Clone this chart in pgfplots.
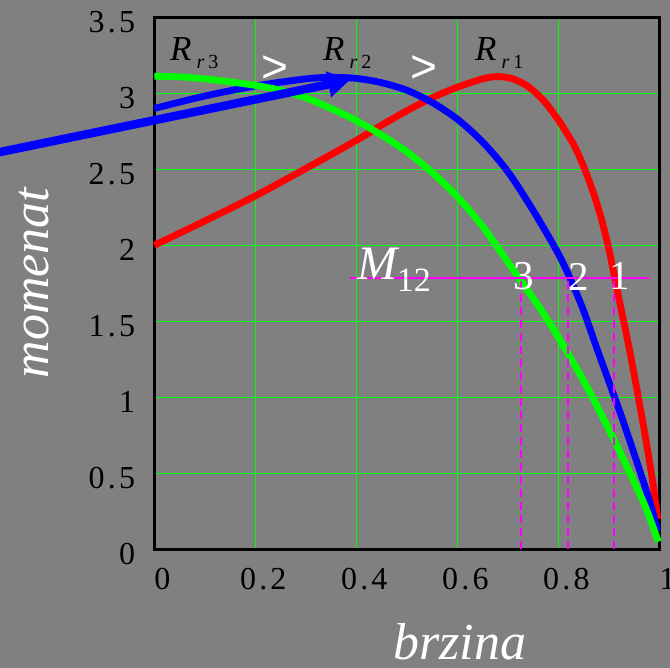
\documentclass[border=0pt]{standalone}
\usepackage{fontspec}
\setmainfont{Liberation Serif}
\newfontfamily\tickfont[LetterSpace=10]{Liberation Serif}
\newfontfamily\sansfont{Liberation Sans}
\usepackage{pgfplots}
\pgfplotsset{compat=1.18}
\usetikzlibrary{arrows.meta}
\definecolor{bg}{RGB}{128,128,128}
\definecolor{grd}{RGB}{0,255,0}
\definecolor{mag}{RGB}{255,0,255}
\definecolor{cred}{RGB}{255,0,0}
\definecolor{cblue}{RGB}{0,0,255}
\definecolor{cgreen}{RGB}{0,255,0}
\begin{document}
\begin{tikzpicture}
\fill[bg] (0pt,0pt) rectangle (670pt,668pt);
\useasboundingbox (0pt,0pt) rectangle (670pt,668pt);
\clip (0pt,0pt) rectangle (670pt,668pt);
\begin{axis}[
  at={(154.3pt,118.7pt)}, anchor=south west,
  width=505pt, height=532pt, scale only axis,
  xmin=0, xmax=1, ymin=0, ymax=3.5,
  clip=false,
  axis line style={line width=3pt, black},
  xtick={0,0.2,0.4,0.6,0.8,1},
  ytick={0,0.5,1,1.5,2,2.5,3,3.5},
  major tick length=0pt,
  grid=major,
  major grid style={grd, line width=1.3pt},
  /pgf/number format/assume math mode=true,
  xticklabel style={font=\fontsize{32}{32}\selectfont\tickfont, anchor=north, inner sep=0pt, yshift=-19pt, xshift=8pt},
  yticklabel style={font=\fontsize{32}{32}\selectfont\tickfont, anchor=east, inner sep=0pt, xshift=-19pt, yshift=-4.5pt},
]
\addplot[cred, line width=6.8pt, smooth, tension=0.5, line join=round] coordinates {
(0.000,2.000) (0.100,2.160) (0.200,2.325) (0.300,2.505) (0.400,2.690)
(0.450,2.790) (0.500,2.885) (0.550,2.970) (0.600,3.040) (0.650,3.095)
(0.680,3.110) (0.710,3.095) (0.740,3.045) (0.770,2.955) (0.800,2.825)
(0.830,2.665) (0.850,2.520) (0.870,2.340) (0.886,2.166) (0.899,1.991)
(0.910,1.816) (0.922,1.618) (0.940,1.330) (0.958,1.010) (0.975,0.690)
(0.988,0.420) (0.997,0.200)
};
\addplot[cblue, line width=6.8pt, smooth, tension=0.5, line join=round] coordinates {
(0.000,2.900) (0.100,2.982) (0.200,3.048) (0.300,3.095) (0.350,3.105)
(0.400,3.098) (0.450,3.070) (0.500,3.020) (0.550,2.940) (0.600,2.830)
(0.650,2.680) (0.700,2.485) (0.750,2.230) (0.800,1.945) (0.825,1.770)
(0.850,1.570) (0.875,1.335) (0.900,1.105) (0.925,0.875) (0.950,0.630)
(0.970,0.430) (0.985,0.270) (0.997,0.120)
};
\addplot[cgreen, line width=6.8pt, smooth, tension=0.5, line join=round] coordinates {
(0.000,3.112) (0.050,3.108) (0.100,3.095) (0.150,3.075) (0.200,3.052)
(0.250,3.020) (0.300,2.970) (0.350,2.900) (0.400,2.820) (0.450,2.725)
(0.500,2.615) (0.550,2.480) (0.600,2.320) (0.650,2.125) (0.700,1.890)
(0.725,1.770) (0.760,1.605) (0.800,1.395) (0.850,1.110) (0.900,0.790)
(0.950,0.445) (0.975,0.260) (0.998,0.050)
};
\draw[mag, line width=2pt] (axis cs:0.388,1.786) -- (axis cs:0.98,1.786);
\draw[mag, line width=2pt, dash pattern=on 8pt off 5pt] (axis cs:0.7255,0) -- (axis cs:0.7255,1.786);
\draw[mag, line width=2pt, dash pattern=on 8pt off 5pt] (axis cs:0.8186,0) -- (axis cs:0.8186,1.786);
\draw[mag, line width=2pt, dash pattern=on 8pt off 5pt] (axis cs:0.910,0) -- (axis cs:0.910,1.786);
\draw[cblue, line width=8.5pt, -{Triangle[length=22pt,width=25pt]}] (axis cs:-0.35,2.583) -- (axis cs:0.3875,3.088);
\node[anchor=base west, inner sep=0pt] at (axis cs:0.031,3.213) {\fontsize{35}{35}\selectfont\itshape R\kern5pt\raisebox{-8pt}{\fontsize{20}{20}\selectfont r\kern4pt\upshape 3}};
\node[anchor=base west, inner sep=0pt] at (axis cs:0.334,3.213) {\fontsize{35}{35}\selectfont\itshape R\kern5pt\raisebox{-8pt}{\fontsize{20}{20}\selectfont r\kern4pt\upshape 2}};
\node[anchor=base west, inner sep=0pt] at (axis cs:0.635,3.213) {\fontsize{35}{35}\selectfont\itshape R\kern5pt\raisebox{-8pt}{\fontsize{20}{20}\selectfont r\kern4pt\upshape 1}};
\node[white, inner sep=0pt, font=\sansfont\fontsize{46}{46}\selectfont] at (axis cs:0.238,3.16) {>};
\node[white, inner sep=0pt, font=\sansfont\fontsize{46}{46}\selectfont] at (axis cs:0.533,3.16) {>};
\node[white, anchor=base west, inner sep=0pt] at (axis cs:0.401,1.772) {\fontsize{48}{48}\selectfont\itshape M\upshape\fontsize{34}{34}\selectfont\raisebox{-12pt}{12}};
\node[white, inner sep=0pt, font=\fontsize{41}{41}\selectfont] at (axis cs:0.732,1.795) {3};
\node[white, inner sep=0pt, font=\fontsize{41}{41}\selectfont] at (axis cs:0.841,1.795) {2};
\node[white, inner sep=0pt, font=\fontsize{41}{41}\selectfont] at (axis cs:0.922,1.795) {1};
\end{axis}
\node[white, rotate=90, anchor=base, inner sep=0pt, font=\fontsize{52}{52}\selectfont\itshape] at (48pt,385pt) {momenat};
\node[white, anchor=base, inner sep=0pt, font=\fontsize{52}{52}\selectfont\itshape] at (460pt,8pt) {brzina};
\end{tikzpicture}
\end{document}
